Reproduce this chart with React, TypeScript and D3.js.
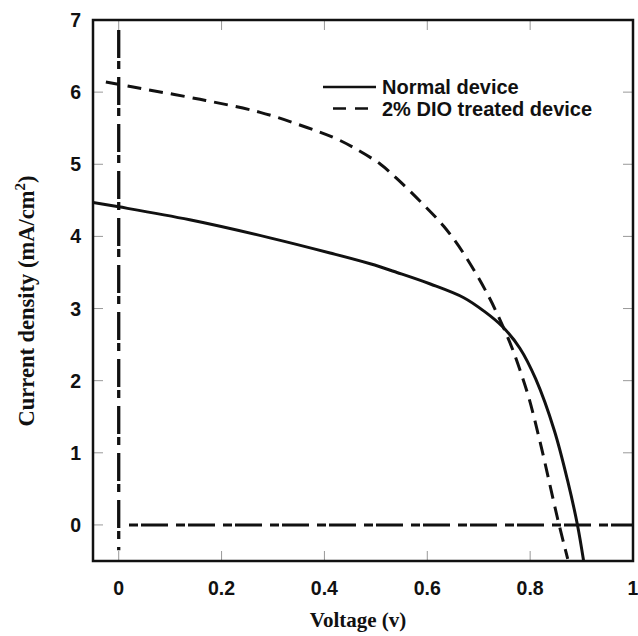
import React from "react";
import * as d3 from "d3";

const width = 638;
const height = 636;
const margin = { top: 20, right: 5, bottom: 75, left: 93 };

// J-V curves (voltage in V, current density in mA/cm2)
const normalV = [-0.05, 0, 0.138, 0.294, 0.411, 0.489, 0.541, 0.606, 0.671, 0.711, 0.746, 0.78, 0.811, 0.847, 0.873, 0.892, 0.904];
const normalJ = [4.47, 4.41, 4.23, 3.98, 3.77, 3.62, 3.5, 3.34, 3.15, 2.96, 2.75, 2.45, 2.02, 1.31, 0.61, 0.0, -0.5];

const dioV = [-0.025, 0.028, 0.158, 0.275, 0.366, 0.418, 0.457, 0.509, 0.541, 0.587, 0.632, 0.671, 0.717, 0.746, 0.765, 0.782, 0.798, 0.821, 0.853, 0.873];
const dioJ = [6.14, 6.07, 5.9, 5.72, 5.51, 5.37, 5.23, 5.0, 4.8, 4.48, 4.14, 3.76, 3.2, 2.77, 2.45, 2.11, 1.75, 1.1, 0.1, -0.47];

// dash-dot reference lines (x = 0 and y = 0)
const vRefV = [0, 0];
const vRefJ = [6.86, -0.35];
const hRefV = [0.02, 1];
const hRefJ = [0, 0];

const xTicks = [0, 0.2, 0.4, 0.6, 0.8, 1];
const xTickLabels = ["0", "0.2", "0.4", "0.6", "0.8", "1"];
const yTicks = [0, 1, 2, 3, 4, 5, 6, 7];

const seriesNames = ["Normal device", "2% DIO treated device"];

const x = d3.scaleLinear().domain([-0.05, 1]).range([margin.left, width - margin.right]);
const y = d3.scaleLinear().domain([-0.5, 7]).range([height - margin.bottom, margin.top]);

const curve = d3
  .line<[number, number]>()
  .x(d => x(d[0]))
  .y(d => y(d[1]))
  .curve(d3.curveCatmullRom.alpha(0.5));

const straight = d3
  .line<[number, number]>()
  .x(d => x(d[0]))
  .y(d => y(d[1]));

const zip = (a: number[], b: number[]): [number, number][] => a.map((v, i) => [v, b[i]]);

const sans = "'Liberation Sans', Arial, sans-serif";
const serif = "'Liberation Serif', 'Times New Roman', serif";

export default function App() {
  const x0 = x.range()[0];
  const x1 = x.range()[1];
  const y0 = y.range()[0];
  const y1 = y.range()[1];
  const tickLen = 10;

  return (
    <svg width={width} height={height} style={{ position: "absolute", left: 0, top: 0, background: "#fff" }}>
      <defs>
        <clipPath id="plot">
          <rect x={x0} y={y1} width={x1 - x0} height={y0 - y1} />
        </clipPath>
      </defs>

      {/* ticks, inside on all sides */}
      <g stroke="#999" strokeWidth={1}>
        {yTicks.map(t => (
          <g key={"y" + t}>
            <line x1={x0} x2={x0 + tickLen} y1={y(t)} y2={y(t)} />
            <line x1={x1} x2={x1 - tickLen} y1={y(t)} y2={y(t)} />
          </g>
        ))}
        {xTicks.map(t => (
          <g key={"x" + t}>
            <line x1={x(t)} x2={x(t)} y1={y0} y2={y0 - tickLen} />
            <line x1={x(t)} x2={x(t)} y1={y1} y2={y1 + tickLen} />
          </g>
        ))}
      </g>

      {/* reference lines */}
      <path d={straight(zip(vRefV, vRefJ)) || ""} fill="none" stroke="#111" strokeWidth={3.3} strokeDasharray="28 3 8 8" />
      <path d={straight(zip(hRefV, hRefJ)) || ""} fill="none" stroke="#111" strokeWidth={3} strokeDasharray="9 3 27 8" />

      {/* curves */}
      <g clipPath="url(#plot)">
        <path d={curve(zip(normalV, normalJ)) || ""} fill="none" stroke="#111" strokeWidth={3} />
        <path d={curve(zip(dioV, dioJ)) || ""} fill="none" stroke="#111" strokeWidth={3} strokeDasharray="14 8" />
      </g>

      {/* frame */}
      <rect x={x0} y={y1} width={x1 - x0} height={y0 - y1} fill="none" stroke="#111" strokeWidth={2.5} />

      {/* tick labels */}
      <g fontFamily={sans} fontWeight="bold" fontSize={19.5} fill="#111">
        {yTicks.map(t => (
          <text key={"yl" + t} x={81} y={y(t)} dy="0.36em" textAnchor="end">
            {t}
          </text>
        ))}
        {xTicks.map((t, i) => (
          <text key={"xl" + t} x={x(t)} y={595} textAnchor="middle">
            {xTickLabels[i]}
          </text>
        ))}
      </g>

      {/* axis titles */}
      <text x={358} y={627} textAnchor="middle" fontFamily={serif} fontWeight="bold" fontSize={21} fill="#111">
        Voltage (v)
      </text>
      <text
        transform="translate(34,301) rotate(-90)"
        textAnchor="middle"
        fontFamily={serif}
        fontWeight="bold"
        fontSize={22.5}
        fill="#111"
      >
        Current density (mA/cm<tspan dy={-9} fontSize={15}>2</tspan>
        <tspan dy={9}>)</tspan>
      </text>

      {/* legend */}
      <g fontFamily={sans} fontWeight="bold" fontSize={20} fill="#111">
        <line x1={323} x2={376} y1={87} y2={87} stroke="#111" strokeWidth={2.5} />
        <text x={382} y={94}>{seriesNames[0]}</text>
        <line x1={333} x2={368} y1={108.5} y2={108.5} stroke="#111" strokeWidth={2.5} strokeDasharray="13 9" />
        <text x={382} y={116}>{seriesNames[1]}</text>
      </g>
    </svg>
  );
}
